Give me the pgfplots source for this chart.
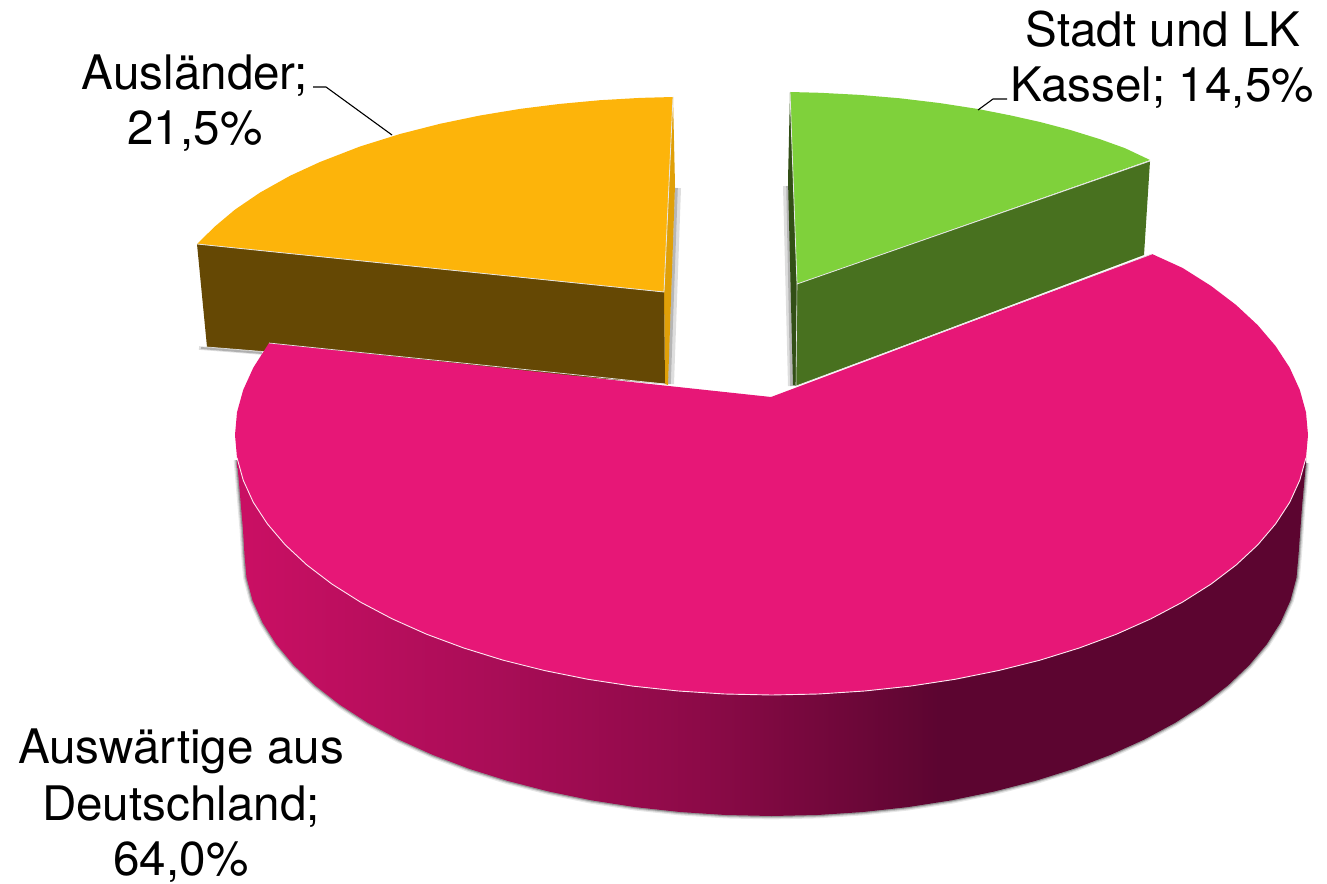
\documentclass[border=0pt]{standalone}
\usepackage{pgfplots}
\usepackage{pgfplotstable}
\usepackage{fontspec}
\setmainfont{TeX Gyre Heros}
\pgfplotsset{compat=1.18}
\definecolor{orangetop}{RGB}{253,180,10}
\definecolor{orangeside}{RGB}{101,72,4}
\definecolor{orangeedge}{RGB}{224,160,8}
\definecolor{greentop}{RGB}{127,209,59}
\definecolor{greenside}{RGB}{72,113,31}
\definecolor{pinktop}{RGB}{231,23,119}
\definecolor{shadowgray}{RGB}{90,90,90}
\tikzset{lab/.style={font=\fontsize{23.8}{28}\selectfont, anchor=base, inner sep=0pt, text=black}}
\pgfdeclarehorizontalshading{pinksidegrad}{100bp}{
 rgb(0bp)=(0.79,0.06,0.39);
 rgb(25.4bp)=(0.79,0.06,0.39);
 rgb(37.3bp)=(0.66,0.05,0.34);
 rgb(46.7bp)=(0.55,0.04,0.28);
 rgb(57.9bp)=(0.36,0.02,0.19);
 rgb(100bp)=(0.36,0.02,0.19)}
\pgfplotstableread{
x y
237 460
243 530
244.5 555
246.5 577.7
252.5 600.3
262.5 622.6
276.3 644.3
293.9 665.3
315.1 685.5
339.8 704.7
367.8 722.8
398.9 739.6
432.7 754.9
469.2 768.8
508 781
548.8 791.5
591.3 800.3
635.1 807.1
680 812
725.6 815
771.5 816
817.4 815
863 812
907.9 807.1
951.7 800.3
994.2 791.5
1035 781
1073.8 768.8
1110.3 754.9
1144.1 739.6
1175.2 722.8
1203.2 704.7
1227.9 685.5
1249.1 665.3
1266.7 644.3
1280.5 622.6
1290.5 600.3
1296.5 577.7
1298.5 555
1302 507
1306 463
}\pinklower
\pgfplotstableread{
x y
1306 457.7
1299.8 480.1
1289.7 502.3
1275.6 523.9
1257.7 544.9
1236.1 565
1211 584.1
1182.5 602.1
1150.9 618.8
1116.4 634.2
1079.2 648
1039.8 660.2
998.2 670.6
955 679.3
910.4 686.1
864.6 691
818.3 694
771.5 695
724.7 694
678.4 691
632.6 686.1
588 679.3
544.8 670.6
503.2 660.2
463.8 648
426.6 634.2
392.1 618.8
360.5 602.1
332 584.1
306.9 565
285.3 544.9
267.4 523.9
253.3 502.3
243.2 480.1
237 457.7
}\pinkfront
\begin{document}
\begin{tikzpicture}
\begin{axis}[
  scale only axis, width=663.5pt, height=441.5pt,
  xmin=0, xmax=1327, ymin=0, ymax=883, y dir=reverse,
  hide axis, clip=false, no markers,
  every axis plot/.append style={line join=round},
]
% keeps the picture as large as the whole frame
\addplot[draw=none] coordinates {(0,0) (1327,883)};
% Auslaender: shadows, side, sliver, top
\addplot[draw=shadowgray, line width=3pt, opacity=.2] coordinates {(678,188) (671,384)};
\addplot[draw=shadowgray, line width=1.8pt, opacity=.3] coordinates {(676,188) (669,384)};
\addplot[draw=shadowgray, line width=1.8pt, opacity=.2] coordinates {(199,348) (262,353)};
\addplot[draw=shadowgray, line width=1pt, opacity=.35] coordinates {(201,348) (262,353)};
\addplot[draw=none, fill=orangeedge] coordinates {(673,97) (675,185) (668,385) (665,384) (664,292)};
\addplot[draw=none, fill=orangeside] coordinates {(197,244) (664,292) (665,384) (207,347)};
\addplot[draw=white!85!black, line width=.35pt] coordinates {(207,347) (665,384)};
\addplot[draw=none, fill=orangetop] coordinates {(673,97) (640,97.9) (600,100.2) (560,103.9) (520,108.9) (480,115.5) (440,123.8) (400,134) (360,146.5) (320,162) (290,175.8) (260,192.6) (235,209.6) (215,226.4) (197,244) (664,292)};
\addplot[draw=white!90!black, line width=.4pt] coordinates {(197,244) (664,292) (673,97)};
% Kassel: shadow, sliver, side, top
\addplot[draw=shadowgray, line width=3pt, opacity=.2] coordinates {(786,186) (791,386)};
\addplot[draw=shadowgray, line width=1.8pt, opacity=.3] coordinates {(788,186) (792,386)};
\addplot[draw=none, fill=greenside!70!black] coordinates {(790,92) (788,180) (793,385) (796,386) (797,284)};
\addplot[draw=none, fill=greenside] coordinates {(797,284) (1150,161) (1144,255) (796,386)};
\addplot[draw=none, fill=greentop] coordinates {(790,92) (820,92.8) (860,94.9) (900,98.3) (940,103.1) (978,109) (1010,115.3) (1040,122) (1070,129.9) (1100,139.2) (1125,148.2) (1150,160) (797,284)};
\addplot[draw=white!90!black, line width=.4pt] coordinates {(790,92) (797,284) (1150,161)};
\addplot[draw=white!90!black, line width=.3pt] coordinates {(797,284) (796,386)};
% Auswaertige: shadow, side, top
\addplot[draw=shadowgray, line width=3.4pt, opacity=.15] table {\pinklower};
\addplot[draw=shadowgray, line width=2.2pt, opacity=.25] table {\pinklower};
\addplot[draw=shadowgray, line width=1.2pt, opacity=.45] table {\pinklower};
\addplot[draw=none, shading=pinksidegrad] coordinates {
 (1306,457.7) (1299.8,480.1) (1289.7,502.3) (1275.6,523.9) (1257.7,544.9) (1236.1,565) (1211,584.1) (1182.5,602.1) (1150.9,618.8) (1116.4,634.2) (1079.2,648) (1039.8,660.2) (998.2,670.6) (955,679.3) (910.4,686.1) (864.6,691) (818.3,694) (771.5,695) (724.7,694) (678.4,691) (632.6,686.1) (588,679.3) (544.8,670.6) (503.2,660.2) (463.8,648) (426.6,634.2) (392.1,618.8) (360.5,602.1) (332,584.1) (306.9,565) (285.3,544.9) (267.4,523.9) (253.3,502.3) (243.2,480.1) (237,457.7)
 (237,460) (243,530) (244.5,555) (246.5,577.7) (252.5,600.3) (262.5,622.6) (276.3,644.3) (293.9,665.3) (315.1,685.5) (339.8,704.7) (367.8,722.8) (398.9,739.6) (432.7,754.9) (469.2,768.8) (508,781) (548.8,791.5) (591.3,800.3) (635.1,807.1) (680,812) (725.6,815) (771.5,816) (817.4,815) (863,812) (907.9,807.1) (951.7,800.3) (994.2,791.5) (1035,781) (1073.8,768.8) (1110.3,754.9) (1144.1,739.6) (1175.2,722.8) (1203.2,704.7) (1227.9,685.5) (1249.1,665.3) (1266.7,644.3) (1280.5,622.6) (1290.5,600.3) (1296.5,577.7) (1298.5,555) (1302,507) (1306,463)};
\addplot[draw=none, fill=pinktop] coordinates {
 (771,397) (1152,254) (1182.5,267.9) (1211,285.9) (1236.1,305) (1257.7,325.1) (1275.6,346.1) (1289.7,367.7) (1299.8,389.9) (1306,412.3) (1308,435)
 (1306,457.7) (1299.8,480.1) (1289.7,502.3) (1275.6,523.9) (1257.7,544.9) (1236.1,565) (1211,584.1) (1182.5,602.1) (1150.9,618.8) (1116.4,634.2) (1079.2,648) (1039.8,660.2) (998.2,670.6) (955,679.3) (910.4,686.1) (864.6,691) (818.3,694) (771.5,695) (724.7,694) (678.4,691) (632.6,686.1) (588,679.3) (544.8,670.6) (503.2,660.2) (463.8,648) (426.6,634.2) (392.1,618.8) (360.5,602.1) (332,584.1) (306.9,565) (285.3,544.9) (267.4,523.9) (253.3,502.3) (243.2,480.1) (237,457.7)
 (235,435) (237,412.3) (243.2,389.9) (253.3,367.7) (269,343)};
\addplot[draw=white!90!pinktop, line width=.45pt] table {\pinkfront};
\addplot[draw=white!90!black, line width=.35pt] coordinates {(269,343) (665,384)};
\addplot[draw=white!90!black, line width=.35pt] coordinates {(796,386) (1152,254)};
% leader lines
\addplot[draw=black, line width=.55pt] coordinates {(313,87) (326,87) (392,135)};
\addplot[draw=black, line width=.55pt] coordinates {(978,110) (993,99) (1007,99)};
% labels
\node[lab] at (axis cs:1163,47) {Stadt und LK};
\node[lab] at (axis cs:1162,102) {Kassel; 14,5\%};
\node[lab] at (axis cs:195,90) {Ausländer;};
\node[lab] at (axis cs:195,145) {21,5\%};
\node[lab] at (axis cs:181,763) {Auswärtige aus};
\node[lab] at (axis cs:181,820) {Deutschland;};
\node[lab] at (axis cs:181,875) {64,0\%};
\end{axis}
\end{tikzpicture}
\end{document}
